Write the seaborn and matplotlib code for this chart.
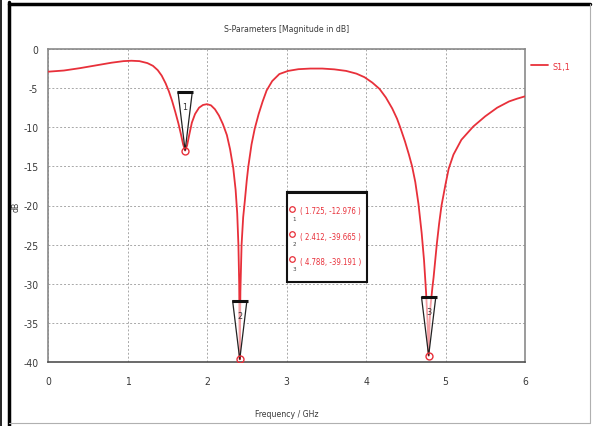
import matplotlib
matplotlib.use("Agg")
import matplotlib.pyplot as plt
import seaborn as sns
import pandas as pd
from matplotlib.patches import Polygon, Rectangle
from matplotlib.lines import Line2D

# S11 magnitude trace (GHz, dB)
freq_ghz = [0.00, 0.20, 0.40, 0.60, 0.80, 0.95, 1.05, 1.15, 1.25, 1.32, 1.38, 1.43,
            1.48, 1.52, 1.56, 1.60, 1.64, 1.67, 1.70, 1.725, 1.75, 1.78, 1.81, 1.85,
            1.90, 1.95, 2.00, 2.05, 2.10, 2.15, 2.20, 2.25, 2.29, 2.33, 2.36, 2.38,
            2.395, 2.405, 2.412, 2.42, 2.435, 2.455, 2.475, 2.50, 2.52, 2.56, 2.60,
            2.65, 2.70, 2.75, 2.82, 2.91, 3.02, 3.15, 3.30, 3.45, 3.60, 3.75, 3.88,
            3.98, 4.08, 4.17, 4.25, 4.33, 4.39, 4.43, 4.49, 4.54, 4.58, 4.62, 4.66,
            4.70, 4.73, 4.755, 4.775, 4.788, 4.80, 4.81, 4.835, 4.85, 4.89, 4.92,
            4.95, 5.00, 5.04, 5.10, 5.20, 5.35, 5.50, 5.65, 5.80, 5.90, 6.00]
s11_db = [-2.90, -2.75, -2.45, -2.10, -1.75, -1.55, -1.50, -1.55, -1.80, -2.15, -2.70, -3.40,
          -4.40, -5.40, -6.60, -8.00, -9.50, -10.80, -12.20, -12.976, -12.30, -10.80, -9.40, -8.30,
          -7.50, -7.15, -7.05, -7.20, -7.70, -8.50, -9.60, -11.00, -12.80, -15.20, -18.00, -21.00,
          -25.00, -30.00, -39.665, -31.00, -25.00, -21.50, -19.50, -16.80, -15.00, -12.20, -10.20,
          -8.30, -6.70, -5.30, -4.10, -3.20, -2.80, -2.58, -2.50, -2.50, -2.60, -2.80, -3.15,
          -3.60, -4.30, -5.10, -6.20, -7.60, -8.90, -10.00, -11.80, -13.50, -15.00, -17.00, -19.80,
          -23.50, -27.00, -31.00, -35.00, -39.191, -35.00, -33.00, -30.50, -29.20, -25.00, -22.30,
          -20.00, -17.30, -15.30, -13.50, -11.60, -9.90, -8.60, -7.50, -6.70, -6.35, -6.05]

marker_ids = ["1", "2", "3"]
marker_freq = [1.725, 2.412, 4.788]
marker_db = [-12.976, -39.665, -39.191]

x_ticks = [0, 1, 2, 3, 4, 5, 6]
y_ticks = [0, -5, -10, -15, -20, -25, -30, -35, -40]

title_text = "S-Parameters [Magnitude in dB]"
x_label = "Frequency / GHz"
y_label = "dB"
trace_name = "S1,1"

df = pd.DataFrame({"Frequency": freq_ghz, "dB": s11_db})

sns.set_style("white")
plt.rcParams["font.family"] = ["DejaVu Sans Condensed", "Liberation Sans Narrow", "DejaVu Sans"]
plt.rcParams["font.stretch"] = "condensed"

RED = "#e8303a"
TXT = "#3a3a3a"

W, H = 593, 427
fig = plt.figure(figsize=(W / 100, H / 100), dpi=100)
fig.patch.set_facecolor("white")
ax = fig.add_axes([48 / W, 1 - 363 / H, (525 - 48) / W, (363 - 50) / H])

sns.lineplot(data=df, x="Frequency", y="dB", ax=ax, color=RED, lw=1.3,
             label=trace_name, zorder=3)

ax.set_xlim(0, 6)
ax.set_ylim(-40, 0)
ax.set_xticks(x_ticks)
ax.set_yticks(y_ticks)
ax.set_xticklabels([str(t) for t in x_ticks])
ax.set_yticklabels([str(t) for t in y_ticks])
ax.tick_params(axis="both", direction="out", length=4, width=0.8, color="#707070",
               labelsize=7.5, labelcolor=TXT, pad=3)
ax.tick_params(axis="x", pad=6)
ax.grid(True, color="#a8a8a8", lw=0.7, ls=(0, (2, 2)))
for sp in ax.spines.values():
    sp.set_color("#8a8a8a")
    sp.set_linewidth(1.2)
ax.spines["bottom"].set_color("#505050")

ax.set_title(title_text, fontsize=6.2, color=TXT, pad=13)
ax.set_xlabel(x_label, fontsize=6.2, color=TXT)
ax.xaxis.set_label_coords(0.5, -0.15)
ax.set_ylabel(y_label, fontsize=6.2, color=TXT)
ax.yaxis.set_label_coords(-0.058, 0.5)

# Marker flags and points
for mid, f, v in zip(marker_ids, marker_freq, marker_db):
    top = v + 7.5
    tri = Polygon([(f - 0.09, top), (f + 0.09, top), (f, v)], closed=True,
                  facecolor=(1, 1, 1, 0.55), edgecolor="#222222", lw=0.9, zorder=4)
    ax.add_patch(tri)
    ax.plot([f - 0.1, f + 0.1], [top, top], color="#111111", lw=2.2,
            solid_capstyle="butt", zorder=5)
    ax.text(f, top - 1.9, mid, fontsize=6.5, color="#333333", ha="center",
            va="center", zorder=6)
    ax.plot([f], [v], marker="o", ms=5, mfc="none", mec=RED, mew=1.0, zorder=6)

# Marker readout box
box = Rectangle((3.0, -29.8), 1.01, 11.5, facecolor="white", edgecolor="#111111",
                lw=1.5, zorder=7)
ax.add_patch(box)
ax.plot([3.0, 4.01], [-18.3, -18.3], color="#111111", lw=2.2, zorder=8,
        solid_capstyle="butt")
row_y = [-20.7, -23.9, -27.1]
for mid, f, v, yy in zip(marker_ids, marker_freq, marker_db, row_y):
    ax.plot([3.07], [yy + 0.3], marker="o", ms=4, mfc="none", mec=RED, mew=0.9, zorder=9)
    ax.text(3.1, yy - 1.0, mid, fontsize=4.5, color="#444444", ha="center",
            va="center", zorder=9)
    ax.text(3.17, yy, f"( {f:.3f}, {v:.3f} )", fontsize=5.6, color=RED,
            ha="left", va="center", zorder=9)

leg = ax.legend(loc="upper left", bbox_to_anchor=(1.0, 0.98), frameon=False,
                handlelength=1.8, handletextpad=0.5, borderaxespad=0.3, fontsize=6.5)
for t in leg.get_texts():
    t.set_color(RED)

# Outer window frame
fig.add_artist(Line2D([1 / W, 1 / W], [0, 1], color="black", lw=1.2))
fig.add_artist(Line2D([8.5 / W, 8.5 / W], [0, 1 - 3 / H], color="black", lw=2.5))
fig.add_artist(Line2D([8.5 / W, 590 / W], [1 - 4.5 / H, 1 - 4.5 / H], color="black", lw=2.5))
fig.add_artist(Line2D([590 / W, 590 / W], [3 / H, 1 - 4.5 / H], color="#b0b0b0", lw=0.8))
fig.add_artist(Line2D([8.5 / W, 590 / W], [3 / H, 3 / H], color="#b0b0b0", lw=0.8))

fig.savefig("out.png", dpi=100, facecolor="white")
